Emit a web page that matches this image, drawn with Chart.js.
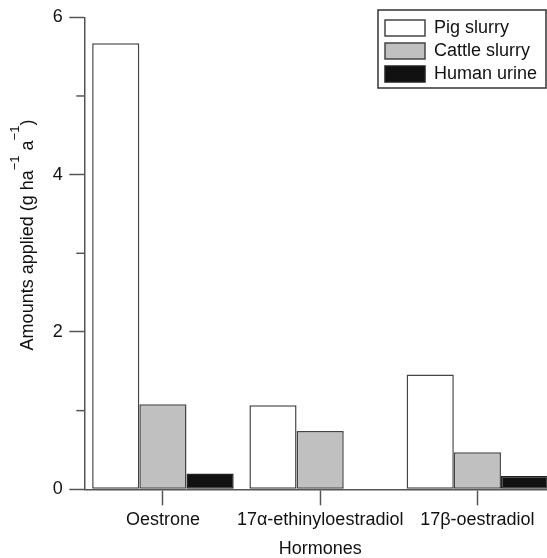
<!DOCTYPE html>
<html>
<head>
<meta charset="utf-8">
<script src="https://cdn.jsdelivr.net/npm/chart.js@4/dist/chart.umd.min.js"></script>
<style>
    html, body { margin: 0; padding: 0; background: #fff; overflow: hidden; }
    #wrap { width: 556px; height: 562px; }
</style>
</head>
<body>
<div id="wrap"><canvas id="hormoneChart" width="556" height="562"></canvas></div>
<script>
// Values (g ha-1 a-1)
const hormones = ['Oestrone', '17α-ethinyloestradiol', '17β-oestradiol'];
const pigSlurry = [5.67, 1.07, 1.46];
const cattleSlurry = [1.08, 0.74, 0.47];
const humanUrine = [0.20, 0, 0.17];
const yMinorTicks = [1, 3, 5];

const axisColor = '#555';
const textColor = '#111';
const fontFamily = '"Liberation Sans", Arial, Helvetica, sans-serif';

// Short ticks at the odd values on the y axis
const minorTicks = {
    id: 'minorTicks',
    afterDraw(chart) {
        const { ctx, chartArea, scales } = chart;
        ctx.save();
        ctx.strokeStyle = axisColor;
        ctx.lineWidth = 1.5;
        yMinorTicks.forEach(v => {
            const y = scales.y.getPixelForValue(v);
            ctx.beginPath();
            ctx.moveTo(chartArea.left - 8, y);
            ctx.lineTo(chartArea.left, y);
            ctx.stroke();
        });
        ctx.restore();
    }
};

// Rotated y title with superscripts
const yTitle = {
    id: 'yTitle',
    afterDraw(chart) {
        const { ctx } = chart;
        const parts = [
            { t: 'Amounts applied (g ha', sup: false },
            { t: '\u22121', sup: true },
            { t: ' a', sup: false },
            { t: '\u22121', sup: true },
            { t: ')', sup: false }
        ];
        const mainFont = '18px ' + fontFamily;
        const supFont = '13px ' + fontFamily;
        ctx.save();
        let total = 0;
        parts.forEach(p => {
            ctx.font = p.sup ? supFont : mainFont;
            p.w = ctx.measureText(p.t).width;
            total += p.w;
        });
        ctx.translate(27, 235);
        ctx.rotate(-Math.PI / 2);
        ctx.fillStyle = textColor;
        ctx.textBaseline = 'alphabetic';
        ctx.textAlign = 'left';
        let x = -total / 2;
        parts.forEach(p => {
            ctx.font = p.sup ? supFont : mainFont;
            ctx.fillText(p.t, x, p.sup ? -8 : 6);
            x += p.w;
        });
        ctx.restore();
    }
};

// Put the legend in the top right corner and frame it
const legendFrame = {
    id: 'legendFrame',
    afterLayout(chart) {
        const lg = chart.legend;
        const dx = 380 - lg.left;
        const dy = 14 - lg.top;
        lg.left += dx; lg.right += dx;
        lg.top += dy; lg.bottom += dy;
    },
    afterDraw(chart) {
        const { ctx } = chart;
        const lg = chart.legend;
        ctx.save();
        ctx.strokeStyle = '#333';
        ctx.lineWidth = 1.5;
        ctx.strokeRect(lg.left - 2, lg.top - 4, 168, 78);
        ctx.restore();
    }
};

const ctx = document.getElementById('hormoneChart').getContext('2d');
new Chart(ctx, {
    type: 'bar',
    data: {
        labels: hormones,
        datasets: [
            {
                label: 'Pig slurry',
                data: pigSlurry,
                backgroundColor: '#ffffff',
                borderColor: '#444',
                borderWidth: 1.5
            },
            {
                label: 'Cattle slurry',
                data: cattleSlurry,
                backgroundColor: '#c0c0c0',
                borderColor: '#444',
                borderWidth: 1.5
            },
            {
                label: 'Human urine',
                data: humanUrine,
                backgroundColor: '#111111',
                borderColor: '#222',
                borderWidth: 1.5
            }
        ]
    },
    options: {
        responsive: false,
        animation: false,
        devicePixelRatio: 1,
        categoryPercentage: 0.9,
        barPercentage: 1.0,
        borderSkipped: false,
        layout: {
            padding: { left: 46.3, top: 16, right: 0, bottom: 2.5 }
        },
        plugins: {
            tooltip: { enabled: false },
            legend: {
                position: 'chartArea',
                align: 'start',
                labels: {
                    boxWidth: 40,
                    boxHeight: 16,
                    padding: 5,
                    color: textColor,
                    font: { family: fontFamily, size: 18 }
                }
            }
        },
        scales: {
            x: {
                grid: {
                    drawOnChartArea: false,
                    offset: false,
                    tickLength: 16,
                    tickColor: axisColor,
                    tickWidth: 1.5
                },
                border: { color: axisColor, width: 1.5 },
                ticks: {
                    color: textColor,
                    font: { family: fontFamily, size: 18 },
                    padding: 4,
                    maxRotation: 0,
                    autoSkip: false
                },
                title: {
                    display: true,
                    text: 'Hormones',
                    color: textColor,
                    font: { family: fontFamily, size: 18 },
                    padding: { top: 3, bottom: 0 }
                }
            },
            y: {
                min: 0,
                max: 6,
                grid: {
                    drawOnChartArea: false,
                    tickLength: 15,
                    tickColor: axisColor,
                    tickWidth: 1.5
                },
                border: { color: axisColor, width: 1.5 },
                ticks: {
                    stepSize: 2,
                    color: textColor,
                    font: { family: fontFamily, size: 18 },
                    padding: 6.5
                }
            }
        }
    },
    plugins: [minorTicks, yTitle, legendFrame]
});
</script>
</body>
</html>
